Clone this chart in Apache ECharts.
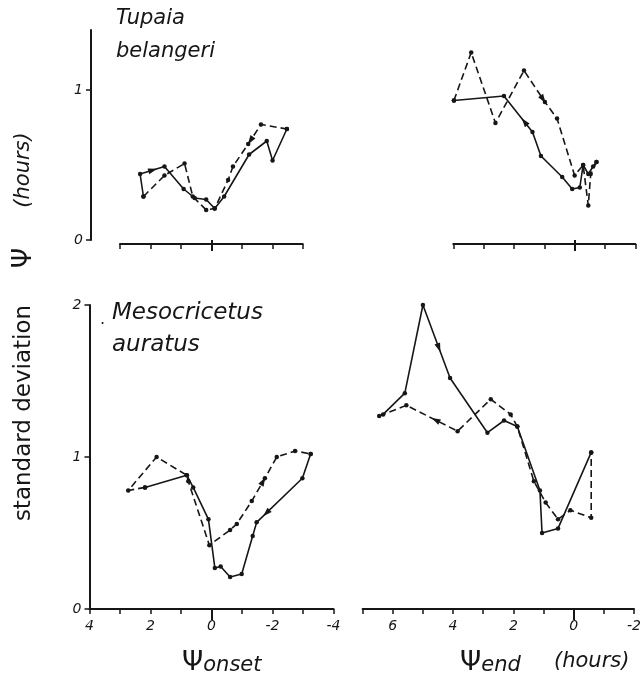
<!DOCTYPE html>
<html>
<head>
<meta charset="utf-8">
<script src="https://cdn.jsdelivr.net/npm/echarts@6/dist/echarts.min.js"></script>
<style>html,body{margin:0;padding:0;background:#fff}#c{width:644px;height:681px}</style>
</head>
<body>
<div id="c"></div>
<script>
// Tupaia belangeri, psi onset
const TL_SOLID_X = [2.23, 2.34, 1.54, 0.91, 0.55, 0.17, -0.11, -0.42, -1.24, -1.82, -2.01, -2.48];
const TL_SOLID_Y = [0.29, 0.44, 0.49, 0.34, 0.28, 0.27, 0.21, 0.29, 0.57, 0.66, 0.53, 0.74];
const TL_DASH_X = [2.23, 1.54, 0.88, 0.61, 0.17, -0.11, -0.55, -0.71, -1.21, -1.63, -2.48];
const TL_DASH_Y = [0.29, 0.43, 0.51, 0.29, 0.20, 0.21, 0.40, 0.49, 0.64, 0.77, 0.74];
// Tupaia belangeri, psi end
const TR_SOLID_X = [3.98, 2.33, 1.39, 1.11, 0.41, 0.08, -0.17, -0.28, -0.45, -0.61, -0.72];
const TR_SOLID_Y = [0.93, 0.96, 0.72, 0.56, 0.42, 0.34, 0.35, 0.50, 0.44, 0.49, 0.52];
const TR_DASH_X = [3.98, 3.41, 2.61, 1.67, 0.98, 0.58, 0.00, -0.28, -0.45, -0.53, -0.72];
const TR_DASH_Y = [0.93, 1.25, 0.78, 1.13, 0.92, 0.81, 0.43, 0.50, 0.23, 0.44, 0.52];
// Mesocricetus auratus, psi onset
const BL_SOLID_X = [2.18, 0.81, 0.60, 0.10, -0.11, -0.30, -0.61, -0.99, -1.35, -1.48, -2.98, -3.25];
const BL_SOLID_Y = [0.80, 0.88, 0.80, 0.59, 0.27, 0.28, 0.21, 0.23, 0.48, 0.57, 0.86, 1.02];
const BL_DASH_X = [2.18, 2.73, 1.80, 0.81, 0.76, 0.07, -0.61, -0.83, -1.32, -1.75, -2.14, -2.74, -3.25];
const BL_DASH_Y = [0.80, 0.78, 1.00, 0.88, 0.84, 0.42, 0.52, 0.56, 0.71, 0.86, 1.00, 1.04, 1.02];
// Mesocricetus auratus, psi end
const BR_SOLID_X = [6.32, 5.60, 5.00, 4.10, 2.86, 2.31, 1.87, 1.12, 1.05, 0.52, -0.58];
const BR_SOLID_Y = [1.28, 1.42, 2.00, 1.52, 1.16, 1.24, 1.20, 0.78, 0.50, 0.53, 1.03];
const BR_DASH_X = [6.45, 5.55, 3.85, 2.75, 2.09, 1.87, 1.32, 0.93, 0.52, 0.11, -0.58, -0.58];
const BR_DASH_Y = [1.27, 1.34, 1.17, 1.38, 1.28, 1.20, 0.84, 0.70, 0.59, 0.65, 0.60, 1.03];

// tick labels
const TOP_Y_TICKS = [0, 1];
const BOT_Y_TICKS = [0, 1, 2];
const BL_X_LABELS = [4, 2, 0, -2, -4];
const BR_X_LABELS = [6, 4, 2, 0, -2];

// direction arrows: segment of a series (from index -> to index), fraction along
const ARROWS = [
  {g: 0, xs: TL_SOLID_X, ys: TL_SOLID_Y, from: 1, to: 2, t: 0.5},
  {g: 0, xs: TL_DASH_X, ys: TL_DASH_Y, from: 9, to: 8, t: 0.8},
  {g: 1, xs: TR_DASH_X, ys: TR_DASH_Y, from: 3, to: 4, t: 0.9},
  {g: 1, xs: TR_SOLID_X, ys: TR_SOLID_Y, from: 2, to: 1, t: 0.27},
  {g: 2, xs: BL_DASH_X, ys: BL_DASH_Y, from: 8, to: 9, t: 0.85},
  {g: 2, xs: BL_SOLID_X, ys: BL_SOLID_Y, from: 10, to: 9, t: 0.78},
  {g: 3, xs: BR_SOLID_X, ys: BR_SOLID_Y, from: 2, to: 3, t: 0.58},
  {g: 3, xs: BR_DASH_X, ys: BR_DASH_Y, from: 2, to: 1, t: 0.42}
];

const INK = '#161616';
const zip = (xs, ys) => xs.map((x, i) => [x, ys[i]]);
const labelFont = {color: INK, fontFamily: 'DejaVu Sans', fontStyle: 'italic', fontSize: 14};

function lineSeries(g, xs, ys, dashed) {
  return {
    type: 'line', xAxisIndex: g, yAxisIndex: g, data: zip(xs, ys),
    symbol: 'circle', symbolSize: 4.5, silent: true,
    itemStyle: {color: INK},
    lineStyle: {color: INK, width: 1.6, type: dashed ? [7, 4] : 'solid'}
  };
}
function arrowSeries(g) {
  const data = ARROWS.filter(a => a.g === g).map(a =>
    [a.xs[a.from], a.ys[a.from], a.xs[a.to], a.ys[a.to], a.t]);
  return {
    type: 'custom', xAxisIndex: g, yAxisIndex: g, data: data, silent: true, z: 5,
    renderItem: function (params, api) {
      const p = api.coord([api.value(0), api.value(1)]);
      const q = api.coord([api.value(2), api.value(3)]);
      const t = api.value(4);
      const mx = p[0] + (q[0] - p[0]) * t, my = p[1] + (q[1] - p[1]) * t;
      const a = Math.atan2(q[1] - p[1], q[0] - p[0]);
      const c = Math.cos(a), s = Math.sin(a);
      return {
        type: 'polygon',
        shape: {points: [[mx + c * 5, my + s * 5], [mx - c * 4 - s * 3, my - s * 4 + c * 3], [mx - c * 4 + s * 3, my - s * 4 - c * 3]]},
        style: {fill: INK}
      };
    }
  };
}

const grids = [
  {left: 120, top: 30, width: 182.7, height: 210},
  {left: 453.3, top: 30, width: 182, height: 210},
  {left: 89.5, top: 305, width: 244, height: 304},
  {left: 362.6, top: 305, width: 272, height: 304}
];
const xRanges = [[-3, 3], [-2, 4], [-4, 4], [-2, 7]];
const xLabels = [null, null, BL_X_LABELS, BR_X_LABELS];
const xAxes = [];
for (let g = 0; g < 4; g++) {
  xAxes.push({
    type: 'value', gridIndex: g, min: xRanges[g][0], max: xRanges[g][1], interval: 1, inverse: true,
    position: 'bottom', offset: g < 2 ? 4 : 0,
    axisLine: {show: true, onZero: false, lineStyle: {color: INK, width: 2}},
    axisTick: {show: true, length: 5, lineStyle: {color: INK, width: 1.5}},
    axisLabel: xLabels[g] ? Object.assign({customValues: xLabels[g], margin: 10}, labelFont) : {show: false},
    splitLine: {show: false}
  });
}
for (let g = 0; g < 4; g++) {
  xAxes.push({
    type: 'value', gridIndex: g, min: xRanges[g][0], max: xRanges[g][1], inverse: true,
    position: 'bottom', offset: g < 2 ? 4 : 0,
    axisLine: {show: false},
    axisTick: {show: true, customValues: [0], length: 11, lineStyle: {color: INK, width: 2}},
    axisLabel: {show: false}, splitLine: {show: false}
  });
}
const yMax = [1.4, 1.4, 2, 2];
const yAxes = [];
for (let g = 0; g < 4; g++) {
  const visible = (g === 0 || g === 2);
  const ticks = g < 2 ? TOP_Y_TICKS : BOT_Y_TICKS;
  yAxes.push({
    type: 'value', gridIndex: g, min: 0, max: yMax[g], show: visible,
    position: 'left', offset: g === 0 ? 29 : 0,
    axisLine: {show: true, onZero: false, lineStyle: {color: INK, width: 2}},
    axisTick: {show: true, customValues: ticks, length: 5, lineStyle: {color: INK, width: 1.5}},
    axisLabel: Object.assign({customValues: ticks, margin: 8}, labelFont),
    splitLine: {show: false}
  });
}

const series = [
  lineSeries(0, TL_SOLID_X, TL_SOLID_Y, false), lineSeries(0, TL_DASH_X, TL_DASH_Y, true),
  lineSeries(1, TR_SOLID_X, TR_SOLID_Y, false), lineSeries(1, TR_DASH_X, TR_DASH_Y, true),
  lineSeries(2, BL_SOLID_X, BL_SOLID_Y, false), lineSeries(2, BL_DASH_X, BL_DASH_Y, true),
  lineSeries(3, BR_SOLID_X, BR_SOLID_Y, false), lineSeries(3, BR_DASH_X, BR_DASH_Y, true),
  arrowSeries(0), arrowSeries(1), arrowSeries(2), arrowSeries(3)
];

const sp = {fill: INK, fontFamily: 'DejaVu Sans', fontStyle: 'italic', fontSize: 21};
const graphic = [
  {type: 'text', left: 116, top: 8, style: Object.assign({text: 'Tupaia'}, sp)},
  {type: 'text', left: 116, top: 41, style: Object.assign({text: 'belangeri'}, sp)},
  {type: 'text', left: 112, top: 302, style: Object.assign({}, sp, {text: 'Mesocricetus', fontSize: 23})},
  {type: 'text', left: 112, top: 334, style: Object.assign({}, sp, {text: 'auratus', fontSize: 23})},
  {type: 'text', left: 100, top: 312, style: {text: '.', fill: INK, fontSize: 16, fontFamily: 'DejaVu Sans'}},
  {type: 'text', x: 24, y: 413, rotation: Math.PI / 2,
   style: {text: 'standard deviation', fill: INK, fontFamily: 'DejaVu Sans', fontSize: 23, align: 'center', verticalAlign: 'middle'}},
  {type: 'text', x: 24, y: 258, rotation: Math.PI / 2,
   style: {text: 'Ψ', fill: INK, fontFamily: 'DejaVu Sans', fontSize: 26, align: 'center', verticalAlign: 'middle'}},
  {type: 'text', x: 24, y: 170, rotation: Math.PI / 2,
   style: {text: '(hours)', fill: INK, fontFamily: 'DejaVu Sans', fontStyle: 'italic', fontSize: 21, align: 'center', verticalAlign: 'middle'}},
  {type: 'text', x: 182, y: 662,
   style: {text: '{p|Ψ}{s|onset}', verticalAlign: 'middle', fill: INK,
     rich: {p: {fontFamily: 'DejaVu Sans', fontSize: 27, fill: INK, verticalAlign: 'bottom'},
            s: {fontFamily: 'DejaVu Sans', fontStyle: 'italic', fontSize: 21, fill: INK, padding: [8, 0, 0, 0]}}}},
  {type: 'text', x: 460, y: 662,
   style: {text: '{p|Ψ}{s|end}', verticalAlign: 'middle', fill: INK,
     rich: {p: {fontFamily: 'DejaVu Sans', fontSize: 27, fill: INK, verticalAlign: 'bottom'},
            s: {fontFamily: 'DejaVu Sans', fontStyle: 'italic', fontSize: 21, fill: INK, padding: [8, 0, 0, 0]}}}},
  {type: 'text', x: 554, y: 662,
   style: {text: '(hours)', fill: INK, fontFamily: 'DejaVu Sans', fontStyle: 'italic', fontSize: 21, verticalAlign: 'middle'}}
];

const chart = echarts.init(document.getElementById('c'), null, {renderer: 'canvas'});
chart.setOption({
  animation: false, backgroundColor: '#fff',
  grid: grids, xAxis: xAxes, yAxis: yAxes, series: series, graphic: graphic
});
</script>
</body>
</html>
